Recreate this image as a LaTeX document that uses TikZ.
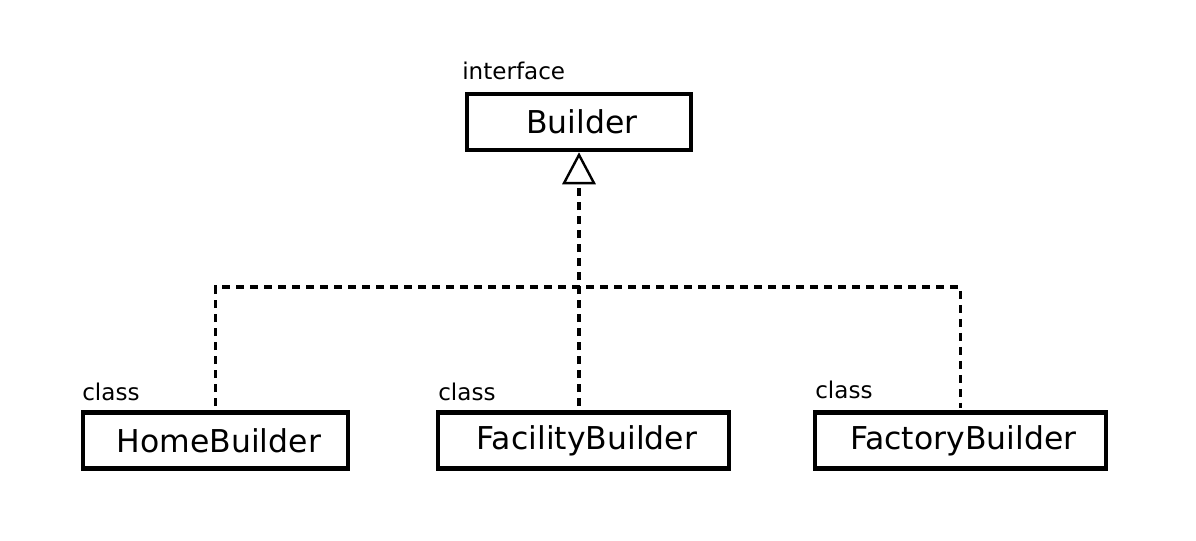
\documentclass[tikz,border=0pt]{standalone}
\usepackage{fontspec}
\setmainfont{DejaVu Sans}
\usepackage{tikz}
\usetikzlibrary{positioning,arrows.meta}

\begin{document}
\begin{tikzpicture}[
    x=0.75pt, y=-0.75pt,
    box/.style={draw, line width=3.4pt, minimum height=42pt, inner sep=0pt,
      font=\fontsize{23.6pt}{28pt}\selectfont},
    tag/.style={inner sep=0pt, anchor=base west, font=\fontsize{17.3pt}{20pt}\selectfont},
    impl/.style={line width=2.4pt, dash pattern=on 6pt off 4.5pt}]

    \useasboundingbox (0,0) rectangle (1196,540);

    \node[box, minimum width=168pt] (builder) at (579,122) {\hspace{4pt}Builder};
    \node[tag] (builderTag) at (462,79) {interface};

    \node[box, minimum width=198.75pt] (home) at (215.5,440.5) {\hspace{5pt}HomeBuilder};
    \node[tag] (homeTag) at (82,400) {class};
    \node[box, minimum width=218.25pt] (facility) at (583.5,440.5) {\hspace{5pt}FacilityBuilder};
    \node[tag] (facilityTag) at (438,400) {class};
    \node[box, minimum width=218.25pt] (factory) at (960.5,440.5) {\hspace{4pt}FactoryBuilder};
    \node[tag] (factoryTag) at (815,398) {class};

    \coordinate (joint) at (579,287);

    % realisations
    \draw[impl, shorten <=3pt] (home.north) |- (joint) -| ([yshift=2pt]factory.north);
    \draw[impl, shorten <=3pt, -{Triangle[open, width=25pt, length=24pt, line width=1.8pt]}]
        (builder.south |- facility.north) -- (builder.south);

\end{tikzpicture}
\end{document}
